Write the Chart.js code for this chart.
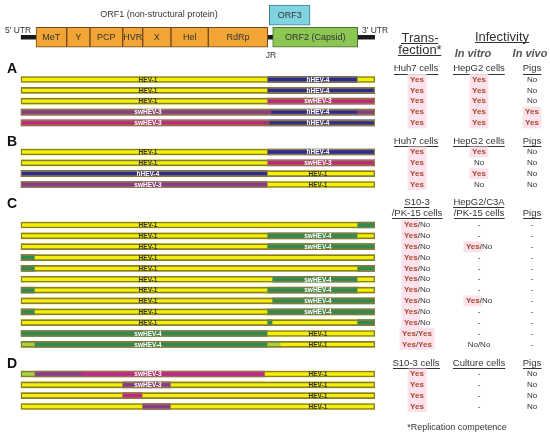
<!DOCTYPE html>
<html>
<head>
<meta charset="utf-8">
<script src="https://cdn.jsdelivr.net/npm/chart.js@4.4.0/dist/chart.umd.min.js"></script>
<style>
    html, body { margin: 0; padding: 0; background: #fff; }
    #wrap { width: 550px; height: 433px; }
</style>
</head>
<body>
<div id="wrap"><canvas id="hevChart" width="550" height="433"></canvas></div>
<script>
// Genome map, positions in nt
const genomeLength = 7200;
const domainNames = ["MeT", "Y", "PCP", "HVR", "X", "Hel", "RdRp"];
const domainEdges = [311, 935, 1408, 2073, 2479, 3054, 3812, 5020];
const orf2Span = [5121, 6848];
const orf3Span = [5052, 5879];

// Chimeric constructs: [start, end, strain]
const rowsA = [
    [[0, 5020, "HEV-1"], [5020, 6848, "hHEV-4"], [6848, 7200, "HEV-1"]],
    [[0, 5020, "HEV-1"], [5020, 7200, "hHEV-4"]],
    [[0, 5020, "HEV-1"], [5020, 7200, "swHEV-3"]],
    [[0, 5101, "swHEV-3b"], [5101, 6848, "hHEV-4"], [6848, 7200, "swHEV-3b"]],
    [[0, 4966, "swHEV-3"], [4966, 5068, "swHEV-3b"], [5068, 7200, "hHEV-4"]],
];
const rowsB = [
    [[0, 5020, "HEV-1"], [5020, 7200, "hHEV-4"]],
    [[0, 5020, "HEV-1"], [5020, 7200, "swHEV-3"]],
    [[0, 5020, "hHEV-4"], [5020, 7200, "HEV-1"]],
    [[0, 5020, "swHEV-3b"], [5020, 7200, "HEV-1"]],
];
const rowsC = [
    [[0, 6848, "HEV-1"], [6848, 7200, "swHEV-4"]],
    [[0, 5020, "HEV-1"], [5020, 6848, "swHEV-4"], [6848, 7200, "HEV-1"]],
    [[0, 5020, "HEV-1"], [5020, 7200, "swHEV-4"]],
    [[0, 291, "swHEV-4"], [291, 7200, "HEV-1"]],
    [[0, 291, "swHEV-4"], [291, 6848, "HEV-1"], [6848, 7200, "swHEV-4"]],
    [[0, 5121, "HEV-1"], [5121, 6848, "swHEV-4"], [6848, 7200, "HEV-1"]],
    [[0, 291, "swHEV-4"], [291, 5020, "HEV-1"], [5020, 6848, "swHEV-4"], [6848, 7200, "HEV-1"]],
    [[0, 5121, "HEV-1"], [5121, 7200, "swHEV-4"]],
    [[0, 291, "swHEV-4"], [291, 5020, "HEV-1"], [5020, 7200, "swHEV-4"]],
    [[0, 5020, "HEV-1"], [5020, 5121, "swHEV-4"], [5121, 6848, "HEV-1"], [6848, 7200, "swHEV-4"]],
    [[0, 5020, "swHEV-4"], [5020, 7200, "HEV-1"]],
    [[0, 291, "blend"], [291, 5020, "swHEV-4"], [5020, 5290, "blend"], [5290, 7200, "HEV-1"]],
];
const rowsD = [
    [[0, 291, "blend"], [291, 1240, "swHEV-3b"], [1240, 4966, "swHEV-3"], [4966, 7200, "HEV-1"]],
    [[0, 2073, "HEV-1"], [2073, 3054, "swHEV-3b"], [3054, 7200, "HEV-1"]],
    [[0, 2073, "HEV-1"], [2073, 2479, "swHEV-3"], [2479, 7200, "HEV-1"]],
    [[0, 2479, "HEV-1"], [2479, 3054, "swHEV-3b"], [3054, 7200, "HEV-1"]],
];

// Strain names printed on the bars: [left part, right part]
const labelsA = [["HEV-1", "hHEV-4"], ["HEV-1", "hHEV-4"], ["HEV-1", "swHEV-3"], ["swHEV-3", "hHEV-4"], ["swHEV-3", "hHEV-4"]];
const labelsB = [["HEV-1", "hHEV-4"], ["HEV-1", "swHEV-3"], ["hHEV-4", "HEV-1"], ["swHEV-3", "HEV-1"]];
const labelsC = [["HEV-1", ""], ["HEV-1", "swHEV-4"], ["HEV-1", "swHEV-4"], ["HEV-1", ""], ["HEV-1", ""], ["HEV-1", "swHEV-4"],
    ["HEV-1", "swHEV-4"], ["HEV-1", "swHEV-4"], ["HEV-1", "swHEV-4"], ["HEV-1", ""], ["swHEV-4", "HEV-1"], ["swHEV-4", "HEV-1"]];
const labelsD = [["swHEV-3", "HEV-1"], ["swHEV-3", "HEV-1"], ["", "HEV-1"], ["", "HEV-1"]];

// Results table
const headersAB = ["Huh7 cells", "HepG2 cells", "Pigs"];
const headersC = [["S10-3", "/PK-15 cells"], ["HepG2/C3A", "/PK-15 cells"], ["", "Pigs"]];
const headersD = ["S10-3 cells", "Culture cells", "Pigs"];
const transfectionA = ["Yes", "Yes", "Yes", "Yes", "Yes"];
const inVitroA = ["Yes", "Yes", "Yes", "Yes", "Yes"];
const inVivoA = ["No", "No", "No", "Yes", "Yes"];
const transfectionB = ["Yes", "Yes", "Yes", "Yes"];
const inVitroB = ["Yes", "No", "Yes", "No"];
const inVivoB = ["No", "No", "No", "No"];
const transfectionC = ["Yes/No", "Yes/No", "Yes/No", "Yes/No", "Yes/No", "Yes/No", "Yes/No", "Yes/No", "Yes/No", "Yes/No", "Yes/Yes", "Yes/Yes"];
const inVitroC = ["-", "-", "Yes/No", "-", "-", "-", "-", "Yes/No", "-", "-", "-", "No/No"];
const inVivoC = ["-", "-", "-", "-", "-", "-", "-", "-", "-", "-", "-", "-"];
const transfectionD = ["Yes", "Yes", "Yes", "Yes"];
const inVitroD = ["-", "-", "-", "-"];
const inVivoD = ["No", "No", "No", "No"];

// ---- layout / style ----
const strainColors = {
    "HEV-1": "#f2f200",
    "hHEV-4": "#2e2b8e",
    "swHEV-3": "#c4258c",
    "swHEV-3b": "#8a3a8c",
    "swHEV-4": "#2e8b4f",
    "blend": "#a6d23c",
};
const FONT = "'Liberation Sans', Arial, sans-serif";
const sectionTop = [0, 6.68, 13.41, 27.14];
const schematicRow = -3.89;
const orf3Row = -5.94;
const labelLeftAt = 2587;
const labelRightAt = 6041;
const colX = [417, 479, 532];

const sections = [
    { letter: "A", rows: rowsA, labels: labelsA, cols: [transfectionA, inVitroA, inVivoA], head: headersAB },
    { letter: "B", rows: rowsB, labels: labelsB, cols: [transfectionB, inVitroB, inVivoB], head: headersAB },
    { letter: "C", rows: rowsC, labels: labelsC, cols: [transfectionC, inVitroC, inVivoC], head: headersC },
    { letter: "D", rows: rowsD, labels: labelsD, cols: [transfectionD, inVitroD, inVivoD], head: headersD },
];

var segData = [], segColors = [], outlineData = [];
sections.forEach((sec, si) => {
    sec.rows.forEach((row, ri) => {
        const y = sectionTop[si] + ri;
        outlineData.push({ x: [0, genomeLength], y: y });
        row.forEach((seg) => {
            segData.push({ x: [seg[0], seg[1]], y: y });
            segColors.push(strainColors[seg[2]]);
        });
    });
});
var domainData = domainNames.map((d, i) => ({ x: [domainEdges[i], domainEdges[i + 1]], y: schematicRow }));

function txt(ctx, s, x, y, font, color, align) {
    ctx.font = font;
    ctx.fillStyle = color;
    ctx.textAlign = align || "center";
    ctx.textBaseline = "middle";
    ctx.fillText(s, x, y);
}
function utxt(ctx, s, x, y, font, color) {
    txt(ctx, s, x, y, font, color, "center");
    const w = ctx.measureText(s).width;
    ctx.fillRect(Math.round(x - w / 2), Math.round(y + 5), w, 1);
}
function result(ctx, value, cx, cy) {
    const parts = value.split("/");
    const pieces = [];
    parts.forEach((p, i) => {
        if (i > 0) pieces.push({ s: "/", f: "8px " + FONT, c: "#333" });
        if (p === "Yes") pieces.push({ s: p, f: "bold 8px " + FONT, c: "#a8482a", hl: true });
        else pieces.push({ s: p, f: "8px " + FONT, c: "#333" });
    });
    let total = 0;
    pieces.forEach((p) => { ctx.font = p.f; p.w = ctx.measureText(p.s).width; total += p.w; });
    // highlights first, then the words on top
    let x = cx - total / 2;
    pieces.forEach((p) => {
        if (p.hl) {
            ctx.fillStyle = "#fbe1ec";
            ctx.fillRect(x - 2.5, cy - 5.4, p.w + 5, 10.85);
        }
        x += p.w;
    });
    x = cx - total / 2;
    pieces.forEach((p) => {
        txt(ctx, p.s, x, cy, p.f, p.c, "left");
        x += p.w;
    });
}

const textLayer = {
    id: "textLayer",
    afterDatasetsDraw(chart) {
        const ctx = chart.ctx;
        const xs = chart.scales.x, ys = chart.scales.y;
        ctx.save();
        // genome schematic
        const sy = ys.getPixelForValue(schematicRow);
        domainNames.forEach((d, i) => {
            const cx = xs.getPixelForValue((domainEdges[i] + domainEdges[i + 1]) / 2);
            txt(ctx, d, cx, sy, "9px " + FONT, "#333");
        });
        txt(ctx, "ORF2 (Capsid)", xs.getPixelForValue((orf2Span[0] + orf2Span[1]) / 2), sy, "9px " + FONT, "#333");
        txt(ctx, "ORF3", xs.getPixelForValue((orf3Span[0] + orf3Span[1]) / 2), ys.getPixelForValue(orf3Row), "9px " + FONT, "#333");
        txt(ctx, "ORF1 (non-structural protein)", 159, 15, "9px " + FONT, "#333");
        txt(ctx, "5' UTR", 5, 31, "8.5px " + FONT, "#333", "left");
        txt(ctx, "3' UTR", 362, 31, "8.5px " + FONT, "#333", "left");
        txt(ctx, "JR", 271, 56, "8.5px " + FONT, "#333");

        // table titles
        utxt(ctx, "Trans-", 420, 38, "13px " + FONT, "#333");
        utxt(ctx, "fection*", 420, 50, "13px " + FONT, "#333");
        utxt(ctx, "Infectivity", 502, 37, "13px " + FONT, "#333");
        txt(ctx, "In vitro", 473, 54, "italic bold 11px " + FONT, "#555");
        txt(ctx, "In vivo", 530, 54, "italic bold 11px " + FONT, "#555");
        txt(ctx, "*Replication competence", 457, 428, "9px " + FONT, "#333");

        sections.forEach((sec, si) => {
            const top = sectionTop[si];
            const letterOff = si === 2 ? -1.94 : -0.95;
            txt(ctx, sec.letter, 7, ys.getPixelForValue(top + letterOff), "bold 14px " + FONT, "#111", "left");
            // column headers
            sec.head.forEach((h, ci) => {
                if (Array.isArray(h)) {
                    if (h[0]) utxt(ctx, h[0], colX[ci], ys.getPixelForValue(top - 2.13), "9.5px " + FONT, "#333");
                    if (h[1]) utxt(ctx, h[1], colX[ci], ys.getPixelForValue(top - 1.11), "9.5px " + FONT, "#333");
                } else {
                    utxt(ctx, h, colX[ci] - (ci === 0 ? 1 : 0), ys.getPixelForValue(top - 1.0), "9.5px " + FONT, "#333");
                }
            });
            sec.rows.forEach((row, ri) => {
                const cy = ys.getPixelForValue(top + ri);
                const lab = sec.labels[ri];
                if (lab[0]) txt(ctx, lab[0], xs.getPixelForValue(labelLeftAt), cy + 0.5, "bold 6.5px " + FONT, lab[0] === "HEV-1" ? "#333" : "#fff");
                if (lab[1]) txt(ctx, lab[1], xs.getPixelForValue(labelRightAt), cy + 0.5, "bold 6.5px " + FONT, lab[1] === "HEV-1" ? "#333" : "#fff");
                sec.cols.forEach((col, ci) => result(ctx, col[ri], colX[ci], cy));
            });
        });
        ctx.restore();
    },
};

document.addEventListener("DOMContentLoaded", () => {
    const ctx = document.getElementById("hevChart").getContext("2d");
    const yAxis = { type: "linear", min: -7.327, max: 32.581, reverse: true, display: false, offset: false, ticks: { stepSize: 10 } };
    new Chart(ctx, {
        type: "bar",
        data: {
            datasets: [
                {
                    label: "outline", yAxisID: "y", data: outlineData,
                    backgroundColor: "rgba(0,0,0,0)", borderColor: "#8a7a3a", borderWidth: 1, borderSkipped: false,
                    barThickness: 6, maxBarThickness: 6, grouped: false,
                },
                {
                    label: "segments", yAxisID: "y", data: segData,
                    backgroundColor: segColors, borderWidth: 0,
                    barThickness: 6, maxBarThickness: 6, grouped: false,
                },
                {
                    label: "ORF3", yAxisID: "ys", data: [{ x: orf3Span, y: orf3Row }],
                    backgroundColor: "#80d3e1", borderColor: "#3f7f8c", borderWidth: 1, borderSkipped: false,
                    barThickness: 20, maxBarThickness: 20, grouped: false,
                },
                {
                    label: "ORF2", yAxisID: "ys", data: [{ x: orf2Span, y: schematicRow }],
                    backgroundColor: "#8cc653", borderColor: "#4b6e2a", borderWidth: 1, borderSkipped: false,
                    barThickness: 20, maxBarThickness: 20, grouped: false,
                },
                {
                    label: "ORF1", yAxisID: "ys", data: domainData,
                    backgroundColor: "#f2a534", borderColor: "#6e4a1c", borderWidth: 1, borderSkipped: false,
                    barThickness: 20, maxBarThickness: 20, grouped: false,
                },
                {
                    label: "genome", yAxisID: "ys", data: [{ x: [0, genomeLength], y: schematicRow }],
                    backgroundColor: "#1a1a1a", borderWidth: 0,
                    barThickness: 4, maxBarThickness: 4, grouped: false,
                },
            ],
        },
        options: {
            indexAxis: "y",
            responsive: false,
            animation: false,
            layout: { padding: { left: 20.7, right: 175, top: 0, bottom: 0 } },
            plugins: { legend: { display: false }, tooltip: { enabled: false } },
            scales: {
                x: { type: "linear", min: 0, max: genomeLength, display: false },
                y: yAxis,
                ys: Object.assign({}, yAxis),
            },
        },
        plugins: [textLayer],
    });
});
</script>
</body>
</html>
